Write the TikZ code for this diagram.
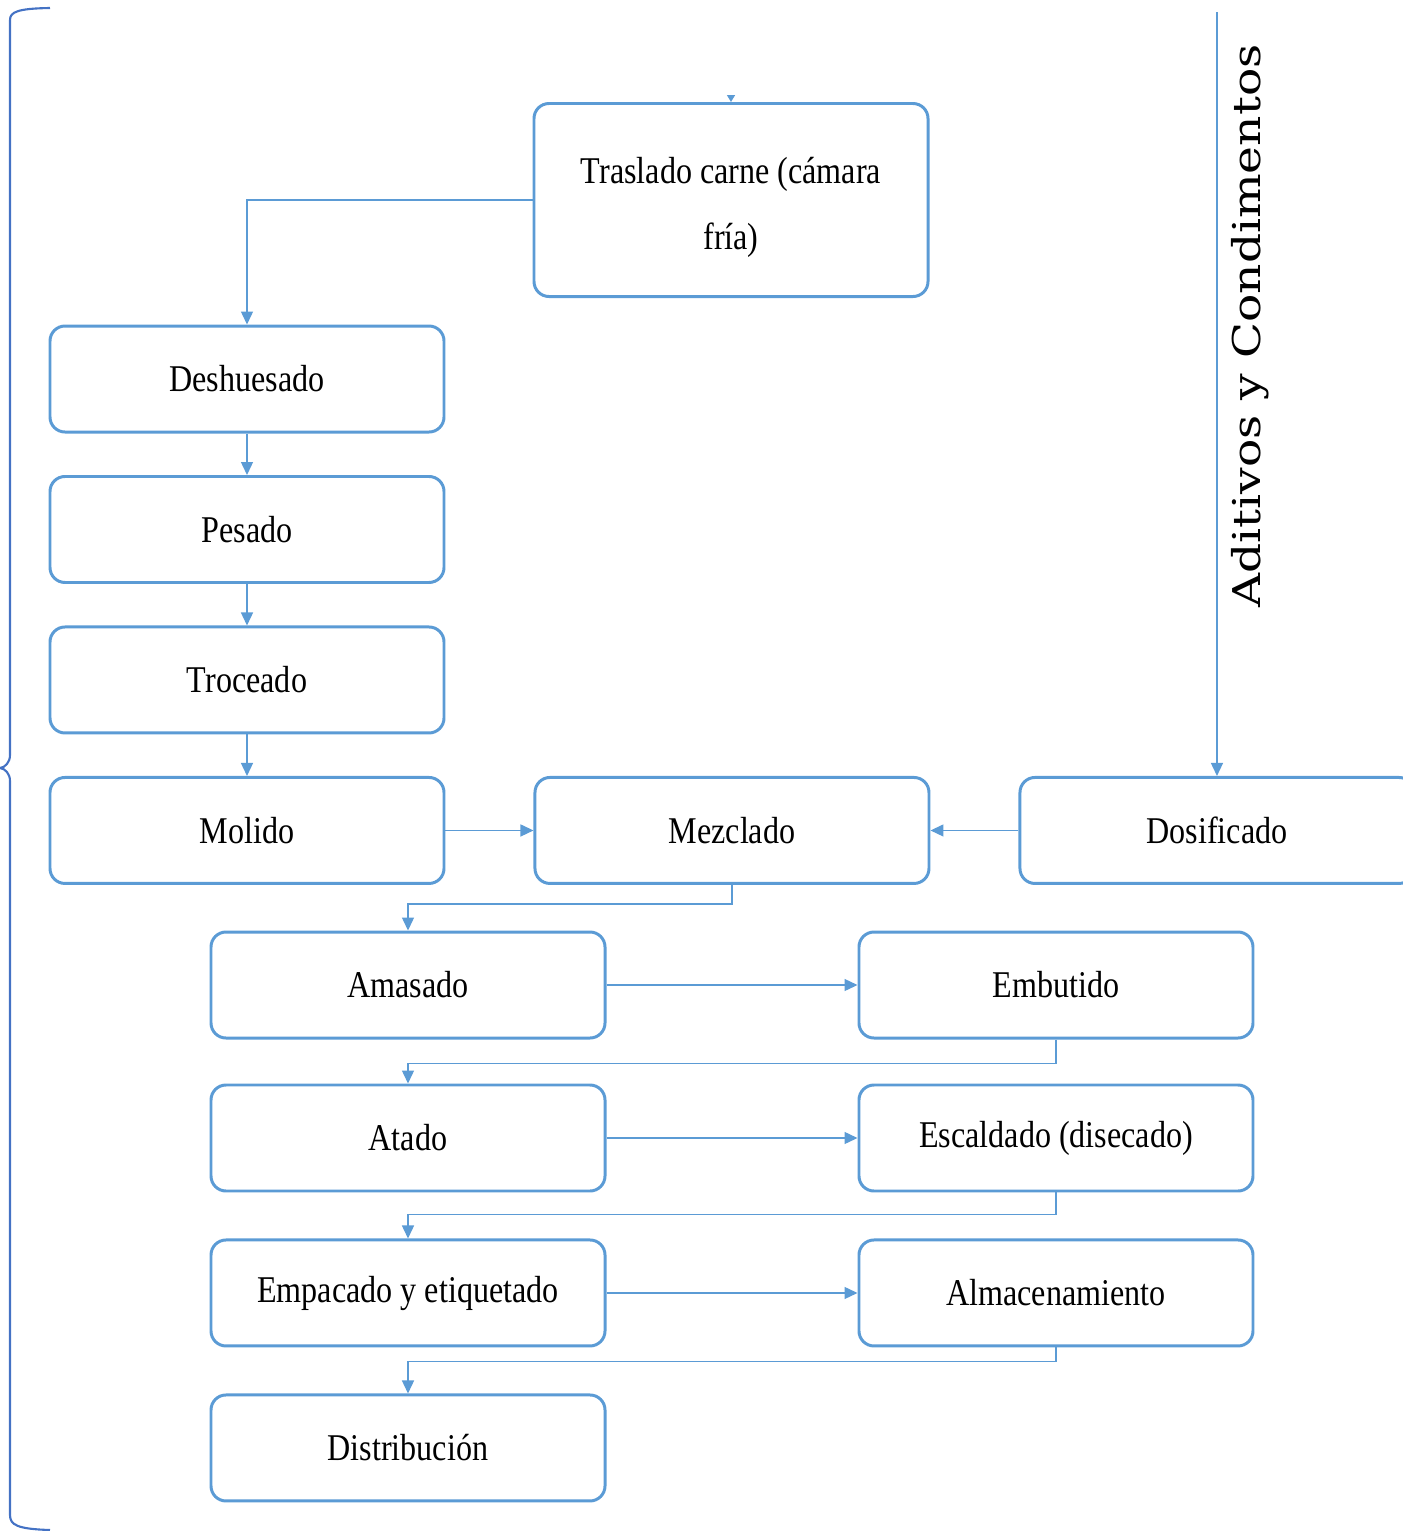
\documentclass[tikz,border=0pt]{standalone}
\usepackage{fontspec}
\usepackage{tikz}
\usetikzlibrary{arrows.meta, positioning}
\newfontfamily\boxfont[FakeStretch=0.85]{Liberation Serif}
\newfontfamily\sidefont[FakeStretch=1.23]{DejaVu Serif}
\definecolor{boxblue}{RGB}{91,155,213}
\definecolor{braceblue}{RGB}{68,114,196}

\begin{document}
\begin{tikzpicture}[node distance=0.83cm,
    box/.style={draw=boxblue, line width=1.7pt, rounded corners=0.3cm, fill=white,
        minimum width=7.88cm, minimum height=2.12cm, align=center,
        font=\boxfont\fontsize{21.5}{37.5}\selectfont},
    flow/.style={draw=boxblue, line width=0.8pt, -{Triangle[length=0.26cm, width=0.24cm]}}]
    \useasboundingbox (0,0) rectangle (28.06,-30.62);

    \node[box, minimum height=3.86cm] (tras) at (14.62,-4.00) {\\[-0.5cm]Traslado carne (cámara\\fría)};
    \node[box] (desh) at (4.94,-7.58) {Deshuesado};
    \node[box, below=of desh] (pes) {Pesado};
    \node[box, below=of pes] (troc) {Troceado};
    \node[box, below=of troc] (mol) {Molido};
    \node[box, right=1.76cm of mol] (mez) {Mezclado};
    \node[box, right=1.76cm of mez] (dos) {Dosificado};
    \node[box] (ama) at (8.16,-19.70) {Amasado};
    \node[box, right=5.02cm of ama] (emb) {Embutido};
    \node[box, below=0.88cm of ama] (ata) {Atado};
    \node[box, right=5.02cm of ata] (esc) {Escaldado (disecado)};
    \node[box, below=0.92cm of ata] (emp) {Empacado y etiquetado};
    \node[box, right=5.02cm of emp] (alm) {Almacenamiento};
    \node[box, below=0.92cm of emp] (dist) {Distribución};

    \node[rotate=90, inner sep=0pt, font=\sidefont\fontsize{21.8}{26}\selectfont] (adit) at (25.0,-6.52) {Aditivos y Condimentos};
    \coordinate (addin) at (24.3,-0.24);
    \coordinate (topin) at (14.62,-1.92);

    \draw[flow, -{Triangle[length=0.14cm, width=0.16cm]}] (topin) -- (tras.north);
    \draw[flow] (tras.west) -| (desh.north);
    \draw[flow] (desh) -- (pes);
    \draw[flow] (pes) -- (troc);
    \draw[flow] (troc) -- (mol);
    \draw[flow] (mol) -- (mez);
    \draw[flow] (dos) -- (mez);
    \draw[flow] (addin -| dos.north) -- (dos.north);
    \draw[flow] (mez.south) -- ++(0,-0.38) -| (ama.north);
    \draw[flow] (ama) -- (emb);
    \draw[flow] (emb.south) -- ++(0,-0.48) -| (ata.north);
    \draw[flow] (ata) -- (esc);
    \draw[flow] (esc.south) -- ++(0,-0.44) -| (emp.north);
    \draw[flow] (emp) -- (alm);
    \draw[flow] (alm.south) -- ++(0,-0.28) -| (dist.north);

    \draw[braceblue, line width=1.2pt] (1.0,-0.16) .. controls (0.35,-0.17) and (0.2,-0.24) .. (0.2,-0.4)
        -- (0.2,-15.1) .. controls (0.2,-15.25) and (0.1,-15.35) .. (0,-15.36)
        .. controls (0.1,-15.37) and (0.2,-15.47) .. (0.2,-15.62)
        -- (0.2,-30.3) .. controls (0.2,-30.5) and (0.35,-30.58) .. (1.0,-30.6);
\end{tikzpicture}
\end{document}
